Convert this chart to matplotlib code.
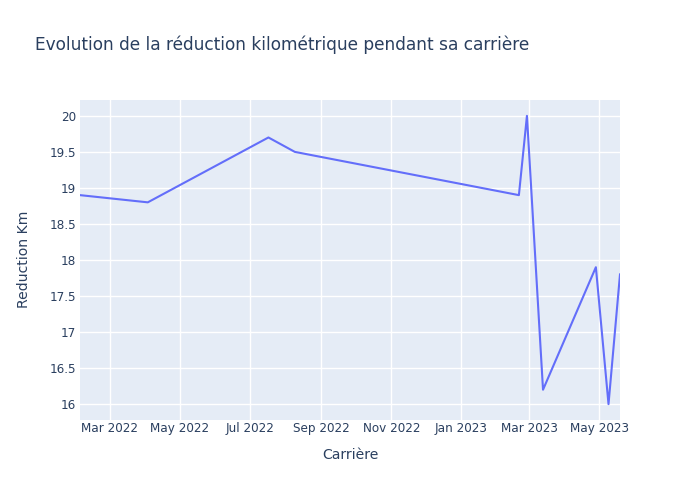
import matplotlib
matplotlib.use("Agg")
import matplotlib.pyplot as plt
import matplotlib.dates as mdates
from matplotlib.ticker import FuncFormatter, FixedLocator
import pandas as pd

dates = ["2022-02-03", "2022-04-03", "2022-07-17", "2022-08-09", "2023-02-20",
         "2023-02-27", "2023-03-13", "2023-04-28", "2023-05-09", "2023-05-19"]
reduction = [18.9, 18.8, 19.7, 19.5, 18.9, 20.0, 16.2, 17.9, 16.0, 17.8]
y_ticks = [16, 16.5, 17, 17.5, 18, 18.5, 19, 19.5, 20]
x_ticks = ["2022-03-01", "2022-05-01", "2022-07-01", "2022-09-01", "2022-11-01",
           "2023-01-01", "2023-03-01", "2023-05-01"]

plt.rcParams['font.family'] = ['DejaVu Sans']
text_color = "#2a3f5f"

x = pd.to_datetime(dates)
fig = plt.figure(figsize=(7, 5), dpi=100)
ax = fig.add_axes([80/700, 80/500, 540/700, 320/500])
ax.set_facecolor("#E5ECF6")
ax.plot(x, reduction, color="#636EFA", linewidth=1.5, solid_joinstyle="round", zorder=3)

ax.set_xlim(x[0], x[-1])
ax.set_ylim(15.78, 20.22)
ax.xaxis.set_major_locator(FixedLocator(mdates.date2num(pd.to_datetime(x_ticks))))
ax.xaxis.set_major_formatter(mdates.DateFormatter("%b %Y"))
ax.yaxis.set_major_locator(FixedLocator(y_ticks))
ax.yaxis.set_major_formatter(FuncFormatter(lambda v, p: f"{v:g}"))
ax.grid(True, color="white", linewidth=1.0, zorder=0)
ax.set_axisbelow(True)
for s in ax.spines.values():
    s.set_visible(False)
ax.tick_params(axis="both", length=0, labelsize=8.64, labelcolor=text_color)
ax.tick_params(axis="x", pad=1.5)
ax.tick_params(axis="y", pad=3)

fig.text(35/700, 1 - 45/500, "Evolution de la réduction kilométrique pendant sa carrière",
         fontsize=12.24, color=text_color, ha="left", va="center")
fig.text(350/700, 1 - 455/500, "Carrière", fontsize=10.08, color=text_color, ha="center", va="center")
fig.text(24/700, 1 - 259/500, "Reduction Km", fontsize=10.08, color=text_color, ha="center",
         va="center", rotation=90)

fig.savefig("out.png", dpi=100, facecolor="white")
